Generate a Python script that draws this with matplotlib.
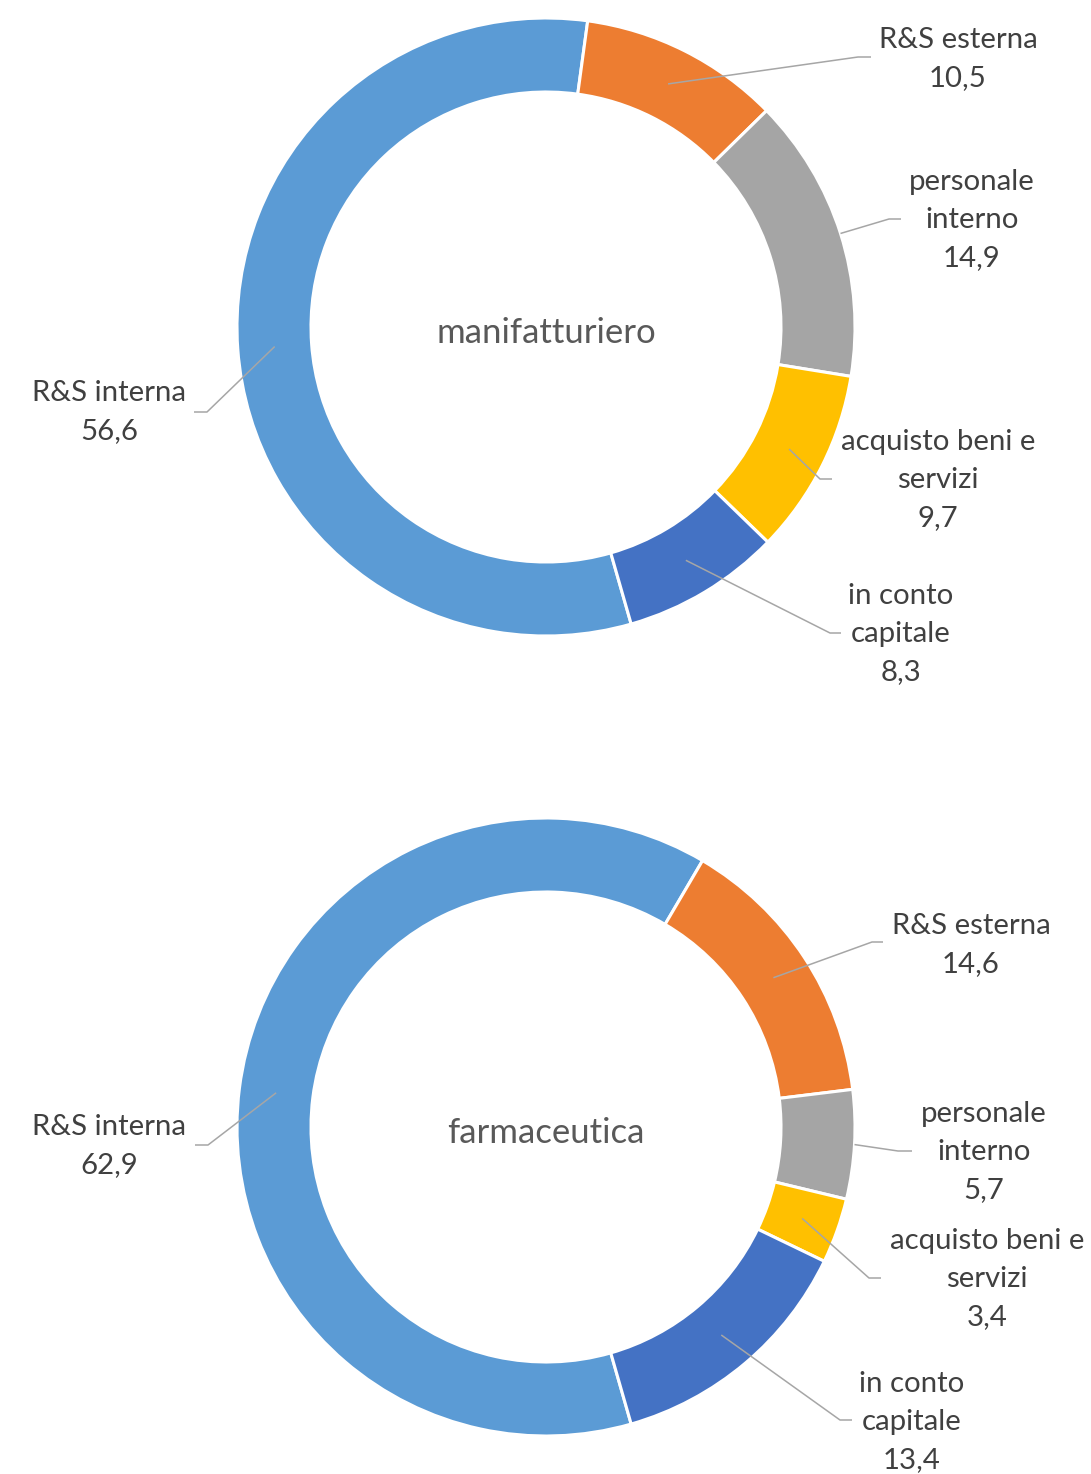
import numpy as np
import matplotlib.pyplot as plt

plt.rcParams['font.family'] = ['Lato', 'DejaVu Sans']

W, H = 1091, 1474

categorie = ["R&S interna", "R&S esterna", "personale\ninterno",
             "acquisto beni e\nservizi", "in conto\ncapitale"]
manifatturiero = [56.6, 10.5, 14.9, 9.7, 8.3]
farmaceutica = [62.9, 14.6, 5.7, 3.4, 13.4]
titoli = ["manifatturiero", "farmaceutica"]
colori = ["#5B9BD5", "#ED7D31", "#A5A5A5", "#FFC000", "#4472C4"]

# layout in pixel dell'immagine (y verso il basso)
centri = [(546, 327), (546, 1127)]
r_out, r_in = 309, 235
raggi_aggancio = [272, 272, 309, 272, 272]
# posizione testo, gomito della linea guida, fine orizzontale
layout = [
    [((109, 412), (207, 412), (194, 412)),
     ((958, 59), (858, 57), (871, 57)),
     ((972, 220), (889, 219), (901, 219)),
     ((938, 480), (820, 479), (832, 479)),
     ((901, 634), (830, 633), (841, 633))],
    [((109, 1146), (208, 1145), (195, 1145)),
     ((971, 945), (872, 942), (883, 942)),
     ((984, 1152), (898, 1151), (912, 1151)),
     ((987, 1279), (869, 1278), (881, 1278)),
     ((912, 1422), (840, 1420), (852, 1420))],
]


def fmt(v):
    return f"{v:.1f}".replace(".", ",")


fig = plt.figure(figsize=(W / 100, H / 100), dpi=100)
ax = fig.add_axes([0, 0, 1, 1])

for k, valori in enumerate([manifatturiero, farmaceutica]):
    cx, cy = centri[k]
    wedges, _ = ax.pie(valori, colors=colori, center=(cx, H - cy), radius=r_out,
                       startangle=-74, counterclock=False,
                       wedgeprops=dict(width=r_out - r_in, edgecolor='white', linewidth=2.2))
    ax.text(cx, H - cy - 6, titoli[k], ha='center', va='center',
            fontsize=25, color='#595959')
    for w, cat, v, ra, (tpos, gomito, fine) in zip(wedges, categorie, valori,
                                                   raggi_aggancio, layout[k]):
        ang = np.deg2rad((w.theta1 + w.theta2) / 2)
        px, py = cx + ra * np.cos(ang), (H - cy) + ra * np.sin(ang)
        ax.plot([px, gomito[0], fine[0]], [py, H - gomito[1], H - fine[1]],
                color='#A6A6A6', lw=1.1, solid_capstyle='butt')
        ax.text(tpos[0], H - tpos[1], f"{cat}\n{fmt(v)}", ha='center', va='center',
                fontsize=21.2, color='#404040', linespacing=1.55)

ax.set_xlim(0, W)
ax.set_ylim(0, H)
ax.set_aspect('equal')
ax.axis('off')

fig.savefig("out.png", dpi=100, facecolor='white')
